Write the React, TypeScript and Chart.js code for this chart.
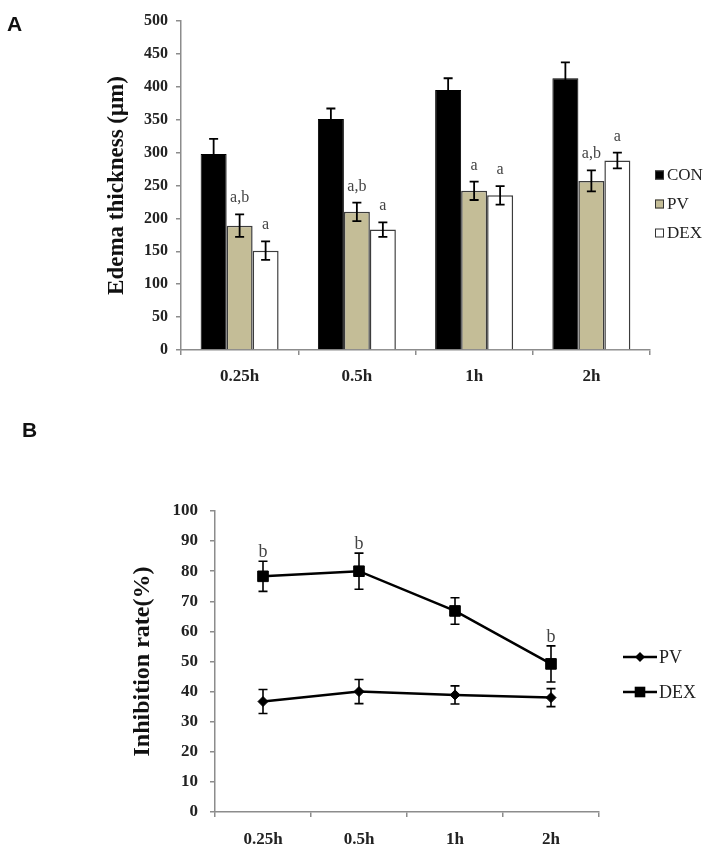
import React, { useEffect, useRef } from "react";
import { Chart, registerables } from "chart.js";

Chart.register(...registerables);

// ---------- data ----------
const categories = ["0.25h", "0.5h", "1h", "2h"];

// Panel A: edema thickness (µm)
const conValues = [298, 351, 395, 413];
const conErrors = [23, 16, 18, 24];
const pvValues = [189, 210, 242, 257];
const pvErrors = [17, 14, 14, 16];
const dexValues = [151, 183, 235, 288];
const dexErrors = [14, 11, 14, 12];
const pvNotes = ["a,b", "a,b", "a", "a,b"];
const dexNotes = ["a", "a", "a", "a"];
const thicknessTicks = { min: 0, max: 500, step: 50 };

// Panel B: inhibition rate (%)
const pvRate = [36.7, 40, 38.9, 38];
const pvRateErrors = [4, 4, 3, 3];
const dexRate = [78.3, 80, 66.8, 49.2];
const dexRateErrors = [5, 6, 4.4, 6];
const dexRateNotes = ["b", "b", "", "b"];
const rateTicks = { min: 0, max: 100, step: 10 };

// ---------- styles ----------
const SERIF = "'Liberation Serif', 'Times New Roman', serif";
const AXIS = "#8c8c8c";

function makeErrorBars(id: string, before: boolean, cap: number, width: number) {
  const draw = (chart: any) => {
    const ctx = chart.ctx;
    const ys = chart.scales.y;
    chart.data.datasets.forEach((ds: any, di: number) => {
      if (!ds.errors) return;
      const meta = chart.getDatasetMeta(di);
      meta.data.forEach((el: any, i: number) => {
        const v = ds.data[i];
        const e = ds.errors[i];
        const top = ys.getPixelForValue(v + e);
        const bot = ys.getPixelForValue(v - e);
        ctx.save();
        ctx.strokeStyle = "#000";
        ctx.lineWidth = width;
        ctx.beginPath();
        ctx.moveTo(el.x, top);
        ctx.lineTo(el.x, bot);
        ctx.moveTo(el.x - cap, top);
        ctx.lineTo(el.x + cap, top);
        ctx.moveTo(el.x - cap, bot);
        ctx.lineTo(el.x + cap, bot);
        ctx.stroke();
        ctx.restore();
      });
    });
  };
  return before
    ? { id, beforeDatasetsDraw: draw }
    : { id, afterDatasetsDraw: draw };
}

function makeNotes(id: string, gap: number, size: number) {
  return {
    id,
    afterDatasetsDraw(chart: any) {
      const ctx = chart.ctx;
      const ys = chart.scales.y;
      chart.data.datasets.forEach((ds: any, di: number) => {
        if (!ds.notes) return;
        const meta = chart.getDatasetMeta(di);
        meta.data.forEach((el: any, i: number) => {
          const txt = ds.notes[i];
          if (!txt) return;
          const top = ys.getPixelForValue(ds.data[i] + (ds.errors ? ds.errors[i] : 0));
          ctx.save();
          ctx.fillStyle = "#444";
          ctx.font = `${size}px ${SERIF}`;
          ctx.textAlign = "center";
          ctx.textBaseline = "alphabetic";
          ctx.fillText(txt, el.x, top - gap);
          ctx.restore();
        });
      });
    },
  };
}

const legendA = {
  id: "legendA",
  afterDraw(chart: any) {
    const ctx = chart.ctx;
    chart.data.datasets.forEach((ds: any, i: number) => {
      const cy = 175 + i * 29;
      ctx.save();
      ctx.fillStyle = ds.backgroundColor;
      ctx.fillRect(655, cy - 4.5, 9, 9);
      ctx.strokeStyle = "#333";
      ctx.lineWidth = 1;
      ctx.strokeRect(655.5, cy - 4, 8, 8);
      ctx.fillStyle = "#222";
      ctx.font = `17px ${SERIF}`;
      ctx.textAlign = "left";
      ctx.textBaseline = "middle";
      ctx.fillText(ds.label, 667, cy + 1);
      ctx.restore();
    });
  },
};

const legendB = {
  id: "legendB",
  afterDraw(chart: any) {
    const ctx = chart.ctx;
    chart.data.datasets.forEach((ds: any, i: number) => {
      const cy = 237 + i * 35;
      ctx.save();
      ctx.strokeStyle = "#000";
      ctx.lineWidth = 2.5;
      ctx.beginPath();
      ctx.moveTo(623, cy);
      ctx.lineTo(657, cy);
      ctx.stroke();
      ctx.fillStyle = "#000";
      ctx.beginPath();
      if (ds.pointStyle === "rectRot") {
        const r = ds.pointRadius;
        ctx.moveTo(640 - r, cy);
        ctx.lineTo(640, cy - r);
        ctx.lineTo(640 + r, cy);
        ctx.lineTo(640, cy + r);
        ctx.closePath();
      } else {
        const s = ds.pointRadius * Math.SQRT1_2;
        ctx.rect(640 - s, cy - s, 2 * s, 2 * s);
      }
      ctx.fill();
      ctx.fillStyle = "#222";
      ctx.font = `18px ${SERIF}`;
      ctx.textAlign = "left";
      ctx.textBaseline = "middle";
      ctx.fillText(ds.label, 659, cy + 1);
      ctx.restore();
    });
  },
};

function axisGrid() {
  return {
    drawOnChartArea: false,
    drawTicks: true,
    tickLength: 5,
    color: AXIS,
    lineWidth: 1.5,
  };
}

function PanelA() {
  const ref = useRef<HTMLCanvasElement | null>(null);
  useEffect(() => {
    if (!ref.current) return;
    const chart = new Chart(ref.current, {
      type: "bar",
      data: {
        labels: categories,
        datasets: [
          {
            label: "CON",
            data: conValues,
            errors: conErrors,
            backgroundColor: "#000000",
            borderColor: "#000000",
            borderWidth: 1,
          } as any,
          {
            label: "PV",
            data: pvValues,
            errors: pvErrors,
            notes: pvNotes,
            backgroundColor: "#c4bd97",
            borderColor: "#3c3c3c",
            borderWidth: 1.5,
          } as any,
          {
            label: "DEX",
            data: dexValues,
            errors: dexErrors,
            notes: dexNotes,
            backgroundColor: "#ffffff",
            borderColor: "#3c3c3c",
            borderWidth: 1.5,
          } as any,
        ],
      },
      options: {
        animation: false,
        responsive: false,
        layout: { padding: { left: 103, right: 66, top: 21, bottom: 0 } },
        datasets: { bar: { categoryPercentage: 0.665, barPercentage: 1 } },
        plugins: { legend: { display: false }, tooltip: { enabled: false } },
        scales: {
          x: {
            offset: true,
            grid: { ...axisGrid(), offset: true },
            border: { color: AXIS, width: 1.5 },
            ticks: {
              font: { family: SERIF, size: 17, weight: "bold" },
              color: "#222",
              padding: 11,
            },
            afterFit: (s: any) => {
              s.height = 50;
            },
          },
          y: {
            min: thicknessTicks.min,
            max: thicknessTicks.max,
            ticks: {
              stepSize: thicknessTicks.step,
              font: { family: SERIF, size: 16, weight: "bold" },
              color: "#222",
              padding: 8,
            },
            grid: axisGrid(),
            border: { color: AXIS, width: 1.5 },
            title: {
              display: true,
              text: "Edema thickness (μm)",
              font: { family: SERIF, size: 23, weight: "bold" },
              color: "#111",
              padding: { top: 0, bottom: 0 },
            },
            afterFit: (s: any) => {
              s.width = 78;
            },
          },
        },
      } as any,
      plugins: [makeErrorBars("ebA", false, 4.5, 1.8), makeNotes("notesA", 12, 16), legendA],
    });
    return () => chart.destroy();
  }, []);
  return (
    <canvas
      ref={ref}
      width={716}
      height={400}
      style={{ position: "absolute", left: 0, top: 0, width: 716, height: 400 }}
    />
  );
}

function PanelB() {
  const ref = useRef<HTMLCanvasElement | null>(null);
  useEffect(() => {
    if (!ref.current) return;
    const chart = new Chart(ref.current, {
      type: "line",
      data: {
        labels: categories,
        datasets: [
          {
            label: "PV",
            data: pvRate,
            errors: pvRateErrors,
            borderColor: "#000",
            backgroundColor: "#000",
            borderWidth: 2.5,
            pointStyle: "rectRot",
            pointRadius: 5,
            pointBackgroundColor: "#000",
            pointBorderColor: "#000",
            pointBorderWidth: 1,
            tension: 0,
          } as any,
          {
            label: "DEX",
            data: dexRate,
            errors: dexRateErrors,
            notes: dexRateNotes,
            borderColor: "#000",
            backgroundColor: "#000",
            borderWidth: 2.5,
            pointStyle: "rect",
            pointRadius: 7.5,
            pointBackgroundColor: "#000",
            pointBorderColor: "#000",
            pointBorderWidth: 1,
            tension: 0,
          } as any,
        ],
      },
      options: {
        animation: false,
        responsive: false,
        layout: { padding: { left: 128, right: 117, top: 91, bottom: 0 } },
        plugins: { legend: { display: false }, tooltip: { enabled: false } },
        scales: {
          x: {
            offset: true,
            grid: { ...axisGrid(), offset: true },
            border: { color: AXIS, width: 1.5 },
            ticks: {
              font: { family: SERIF, size: 17, weight: "bold" },
              color: "#222",
              padding: 12,
            },
            afterFit: (s: any) => {
              s.height = 36;
            },
          },
          y: {
            min: rateTicks.min,
            max: rateTicks.max,
            ticks: {
              stepSize: rateTicks.step,
              font: { family: SERIF, size: 17, weight: "bold" },
              color: "#222",
              padding: 12,
            },
            grid: axisGrid(),
            border: { color: AXIS, width: 1.5 },
            title: {
              display: true,
              text: "Inhibition rate(%)",
              font: { family: SERIF, size: 24, weight: "bold" },
              color: "#111",
              padding: { top: 0, bottom: 0 },
            },
            afterFit: (s: any) => {
              s.width = 87;
            },
          },
        },
      } as any,
      plugins: [makeErrorBars("ebB", true, 4.5, 1.6), makeNotes("notesB", 4, 18), legendB],
    });
    return () => chart.destroy();
  }, []);
  return (
    <canvas
      ref={ref}
      width={716}
      height={428}
      style={{ position: "absolute", left: 0, top: 420, width: 716, height: 428 }}
    />
  );
}

export default function App() {
  const panelLabel: React.CSSProperties = {
    position: "absolute",
    fontFamily: "'Liberation Sans', Arial, sans-serif",
    fontWeight: "bold",
    fontSize: 21,
    lineHeight: "24px",
    color: "#111",
  };
  return (
    <div
      style={{
        position: "fixed",
        left: 0,
        top: 0,
        width: 716,
        height: 848,
        background: "#fff",
        overflow: "hidden",
      }}
    >
      <PanelA />
      <PanelB />
      <div style={{ ...panelLabel, left: 7, top: 12 }}>A</div>
      <div style={{ ...panelLabel, left: 22, top: 418 }}>B</div>
    </div>
  );
}
